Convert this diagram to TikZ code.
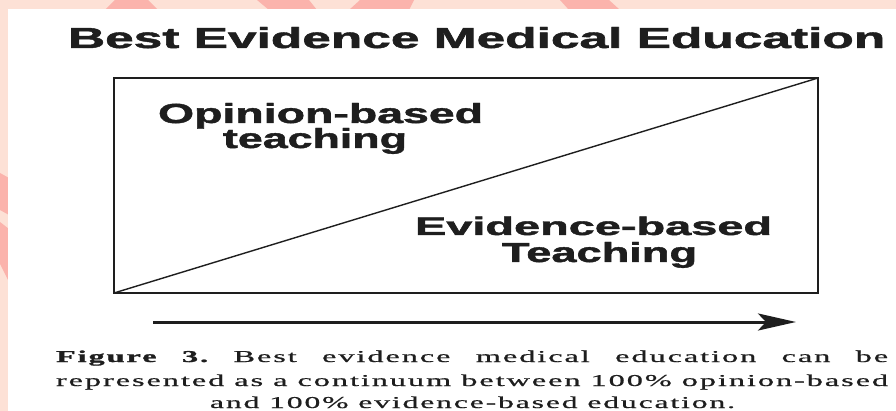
\documentclass[tikz,border=0pt]{standalone}
\usepackage{fontspec}
\setmainfont{Liberation Serif}
\setsansfont{Liberation Sans}[BoldFeatures={FakeBold=1.4}]
\newfontfamily\capfont{Liberation Serif}[LetterSpace=6, FakeBold=0.6, BoldFeatures={FakeBold=1.2}]
\usetikzlibrary{arrows.meta}
\definecolor{bgpink}{HTML}{FDE1D6}
\definecolor{stripe}{HTML}{FBB3AC}
\definecolor{ink}{HTML}{1E1E1E}
\newlength\capw
\tikzset{
  lbl/.style={anchor=base west, inner sep=0pt, outer sep=0pt, text=ink, font=\sffamily\bfseries},
  capline/.style={anchor=base west, inner sep=0pt, outer sep=0pt, text=ink},
  frame/.style={draw=ink, line width=2pt, inner sep=0pt, outer sep=0pt},
}
\begin{document}
\settowidth{\capw}{\capfont represented as a continuum between 100\% opinion-based}%
\begin{tikzpicture}[x=1pt,y=-1pt]
\useasboundingbox (0,0) rectangle (896,411);
% decorative background
\fill[bgpink] (0,0) rectangle (896,411);
\fill[stripe] (105,10) -- (115,0) -- (148,0) -- (158,10) -- cycle;
\fill[stripe] (257,0) -- (309,0) -- (317,10) -- (269,10) -- cycle;
\fill[stripe] (360,0) -- (414,0) -- (409,10) -- (349,10) -- cycle;
\fill[stripe] (560,0) -- (609,0) -- (620,10) -- (569,10) -- cycle;
\fill[stripe] (0,173) -- (9,178) -- (9,215) -- (0,210) -- cycle;
\fill[stripe] (0,222) -- (9,229) -- (9,282) -- (0,264) -- cycle;
\fill[white] (8,9) rectangle (896,411);
% title
\node[lbl] (title) at (68,48) {\resizebox{817pt}{21pt}{Best Evidence Medical Education}};
% box and diagonal
\node[frame, minimum width=704pt, minimum height=215pt, anchor=north west] (box) at (114,78) {};
\draw[ink, line width=1.4pt] (box.south west) -- (box.north east);
% labels
\node[lbl] (op1) at (158,123) {\resizebox{325pt}{20pt}{Opinion-based}};
\node[lbl] (op2) at (223,148) {\resizebox{184pt}{20pt}{teaching}};
\node[lbl] (ev1) at (415,235) {\resizebox{357pt}{18.5pt}{Evidence-based}};
\node[lbl] (ev2) at (502,262) {\resizebox{195pt}{20pt}{Teaching}};
% arrow
\coordinate (a1) at (153,322);
\coordinate (a2) at (796,322);
\draw[ink, line width=3pt, -{Stealth[length=38pt,width=17pt,inset=8pt]}] (a1) -- (a2);
% caption
\node[capline] (c1) at (56,362) {\resizebox{832pt}{11.5pt}{\makebox[\capw][s]{\capfont\bfseries Figure 3.\mdseries\ Best evidence medical education can be}}};
\node[capline] (c2) at (56,386) {\resizebox{832pt}{11.5pt}{\capfont represented as a continuum between 100\% opinion-based}};
\node[capline] (c3) at (210,408) {\resizebox{525pt}{11.5pt}{\capfont and 100\% evidence-based education.}};
\end{tikzpicture}
\end{document}
